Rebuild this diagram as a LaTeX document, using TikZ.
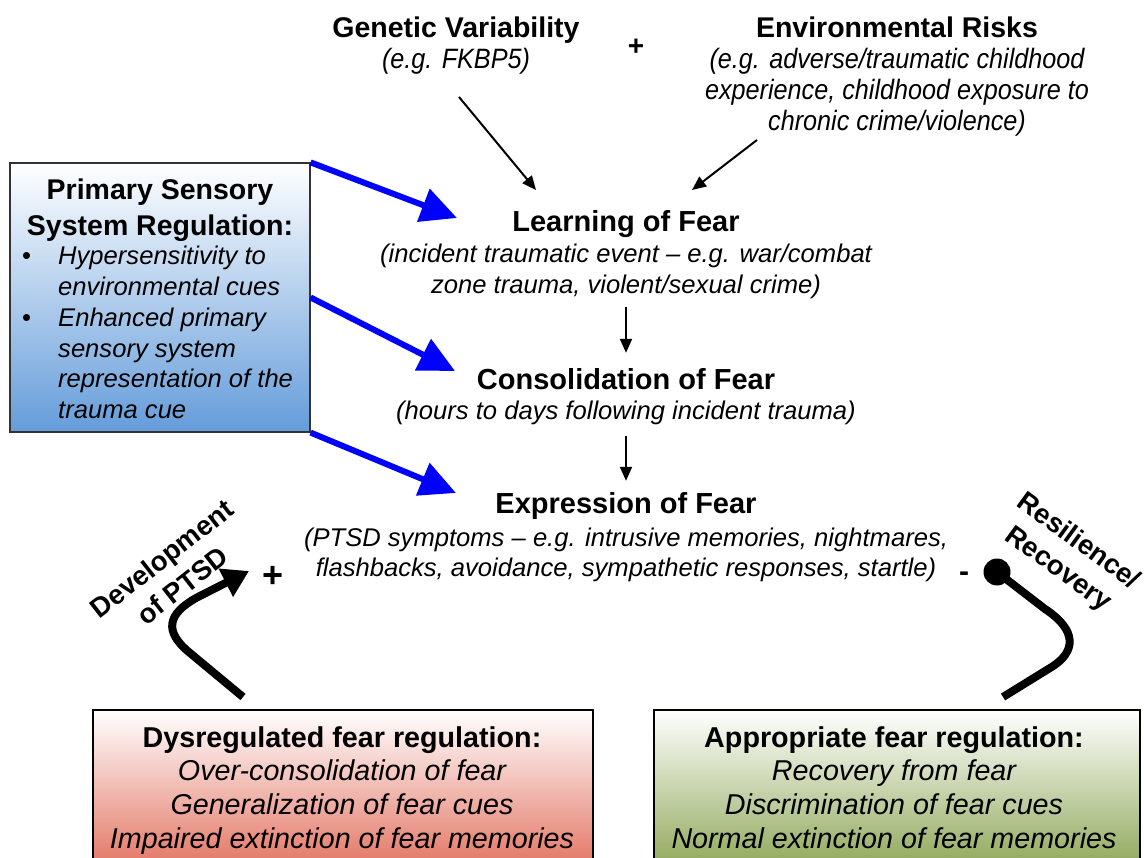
\documentclass[tikz,border=0pt]{standalone}
\usepackage{fontspec}
\setmainfont{Liberation Sans}
\newfontfamily\narrowfont[FakeStretch=0.9]{Liberation Sans}
\usetikzlibrary{arrows.meta}
\definecolor{blueB}{RGB}{100,156,218}
\definecolor{redB}{RGB}{226,112,94}
\definecolor{greenB}{RGB}{140,165,84}
\begin{document}
\begin{tikzpicture}[x=1pt,y=-1pt,
  ttl/.style={font=\bfseries\fontsize{29}{34}\selectfont, inner sep=0pt, anchor=base, align=center},
  sub/.style={font=\itshape\fontsize{25.6}{30.5}\selectfont, inner sep=0pt, anchor=base, align=center},
  topttl/.style={font=\bfseries\fontsize{28.5}{31}\selectfont, inner sep=0pt, anchor=base, align=center},
  topsub/.style={font=\narrowfont\itshape\fontsize{28}{31}\selectfont, inner sep=0pt, anchor=base, align=center},
  boxttl/.style={font=\bfseries\fontsize{28.7}{34}\selectfont, inner sep=0pt, anchor=base, align=center},
  boxsub/.style={font=\itshape\fontsize{28.7}{34}\selectfont, inner sep=0pt, anchor=base, align=center},
  ps/.style={font=\itshape\fontsize{25.6}{30.5}\selectfont, inner sep=0pt, anchor=base west, align=left},
  rot/.style={font=\bfseries\fontsize{27.5}{34}\selectfont, inner sep=0pt, align=center},
  thin/.style={line width=2pt, -{Triangle[length=14pt,width=12pt]}},
  bluearr/.style={blue, line width=6pt, -{Triangle[length=36pt,width=34pt]}},
  thick/.style={line width=8pt},
]
\useasboundingbox (0,0) rectangle (1144,858);

% top (anchor base = baseline of the last line)
\node[topttl] (gen) at (456,38) {Genetic Variability};
\node[topsub] (gensub) at (456,69) {(e.g. FKBP5)};
\node[ttl, font=\bfseries\fontsize{28}{30}\selectfont] (plus1) at (636,56) {+};
\node[topttl] (env) at (897,38) {Environmental Risks};
\node[topsub] (envsub) at (897,131) {(e.g. adverse/traumatic childhood\\experience, childhood exposure to\\chronic crime/violence)};

% centre column
\node[ttl] (learn) at (626,232) {Learning of Fear};
\node[sub] (learnsub) at (626,293.5) {(incident traumatic event -- e.g. war/combat\\zone trauma, violent/sexual crime)};
\node[ttl] (cons) at (626,390) {Consolidation of Fear};
\node[sub] (conssub) at (626,420) {(hours to days following incident trauma)};
\node[ttl] (expr) at (626,514) {Expression of Fear};
\node[sub] (exprsub) at (626,576.5) {(PTSD symptoms -- e.g. intrusive memories, nightmares,\\flashbacks, avoidance, sympathetic responses, startle)};

% primary sensory box
\node[draw=black!80, line width=1.2pt, minimum width=300pt, minimum height=269pt,
      top color=white, middle color=white, bottom color=blueB, inner sep=0pt] (psbox) at (160,297.5) {};
\node[ttl, font=\bfseries\fontsize{28.5}{36}\selectfont] (pstitle) at (160,236) {Primary Sensory\\System Regulation:};
\node[ps] (bul1) at (22,265) {\upshape\textbullet};
\node[ps] (item1) at (58,295.5) {Hypersensitivity to\\environmental cues};
\node[ps] (bul2) at (22,327) {\upshape\textbullet};
\node[ps] (item2) at (58,418.5) {Enhanced primary\\sensory system\\representation of the\\trauma cue};

% bottom boxes
\node[draw=black, line width=2pt, minimum width=500pt, minimum height=164pt,
      top color=white, middle color=white, bottom color=redB, inner sep=0pt] (dys) at (343,792) {};
\node[boxttl] (dysttl) at (342,747) {Dysregulated fear regulation:};
\node[boxsub] (dyssub) at (342,848) {Over-consolidation of fear\\Generalization of fear cues\\Impaired extinction of fear memories};
\node[draw=black, line width=2pt, minimum width=486pt, minimum height=164pt,
      top color=white, middle color=white, bottom color=greenB, inner sep=0pt] (app) at (897,792) {};
\node[boxttl] (appttl) at (894,747) {Appropriate fear regulation:};
\node[boxsub] (appsub) at (894,848) {Recovery from fear\\Discrimination of fear cues\\Normal extinction of fear memories};

% rotated labels and signs
\node[rot, rotate=38] (dev) at (172,572) {Development\\of PTSD};
\node[rot, rotate=-36] (res) at (1068,556) {Resilience/\\Recovery};
\node[inner sep=0pt, font=\bfseries\fontsize{36}{40}\selectfont] (plus2) at (273,577) {+};
\node[inner sep=0pt, font=\bfseries\fontsize{30}{34}\selectfont] (minus) at (964,577) {-};

% coordinates for free ends
\coordinate (g1) at (459,97);
\coordinate (g2) at (536,190);
\coordinate (e1) at (757,140);
\coordinate (e2) at (692,190);
\coordinate (b1) at (457,218);
\coordinate (b2) at (455,371);
\coordinate (b3) at (456,493);
\coordinate (dstart) at (243,697);
\coordinate (dend) at (249,571);
\coordinate (rdot) at (997,572);
\coordinate (rend) at (1003,697);

% black arrows
\draw[thin] (g1) -- (g2);
\draw[thin] (e1) -- (e2);
\draw[thin, shorten <=8pt, shorten >=16pt] (learnsub.south) -- (cons.north);
\draw[thin, shorten <=10pt, shorten >=12pt] (conssub.south) -- (expr.north);

% blue arrows
\draw[bluearr] (psbox.north east) -- (b1);
\draw[bluearr] (psbox.east) -- (b2);
\draw[bluearr] (psbox.south east) -- (b3);

% thick curved arrows
\draw[thick, -{Triangle[length=26pt,width=30pt]}] (dstart) -- (190,653) .. controls (163,631) and (168,614) .. (196,598) -- (dend);
\draw[thick] (rdot) -- (1045,609) .. controls (1077,630) and (1077,652) .. (1050,668) -- (rend);
\fill (rdot) circle (13.5pt);
\end{tikzpicture}
\end{document}
